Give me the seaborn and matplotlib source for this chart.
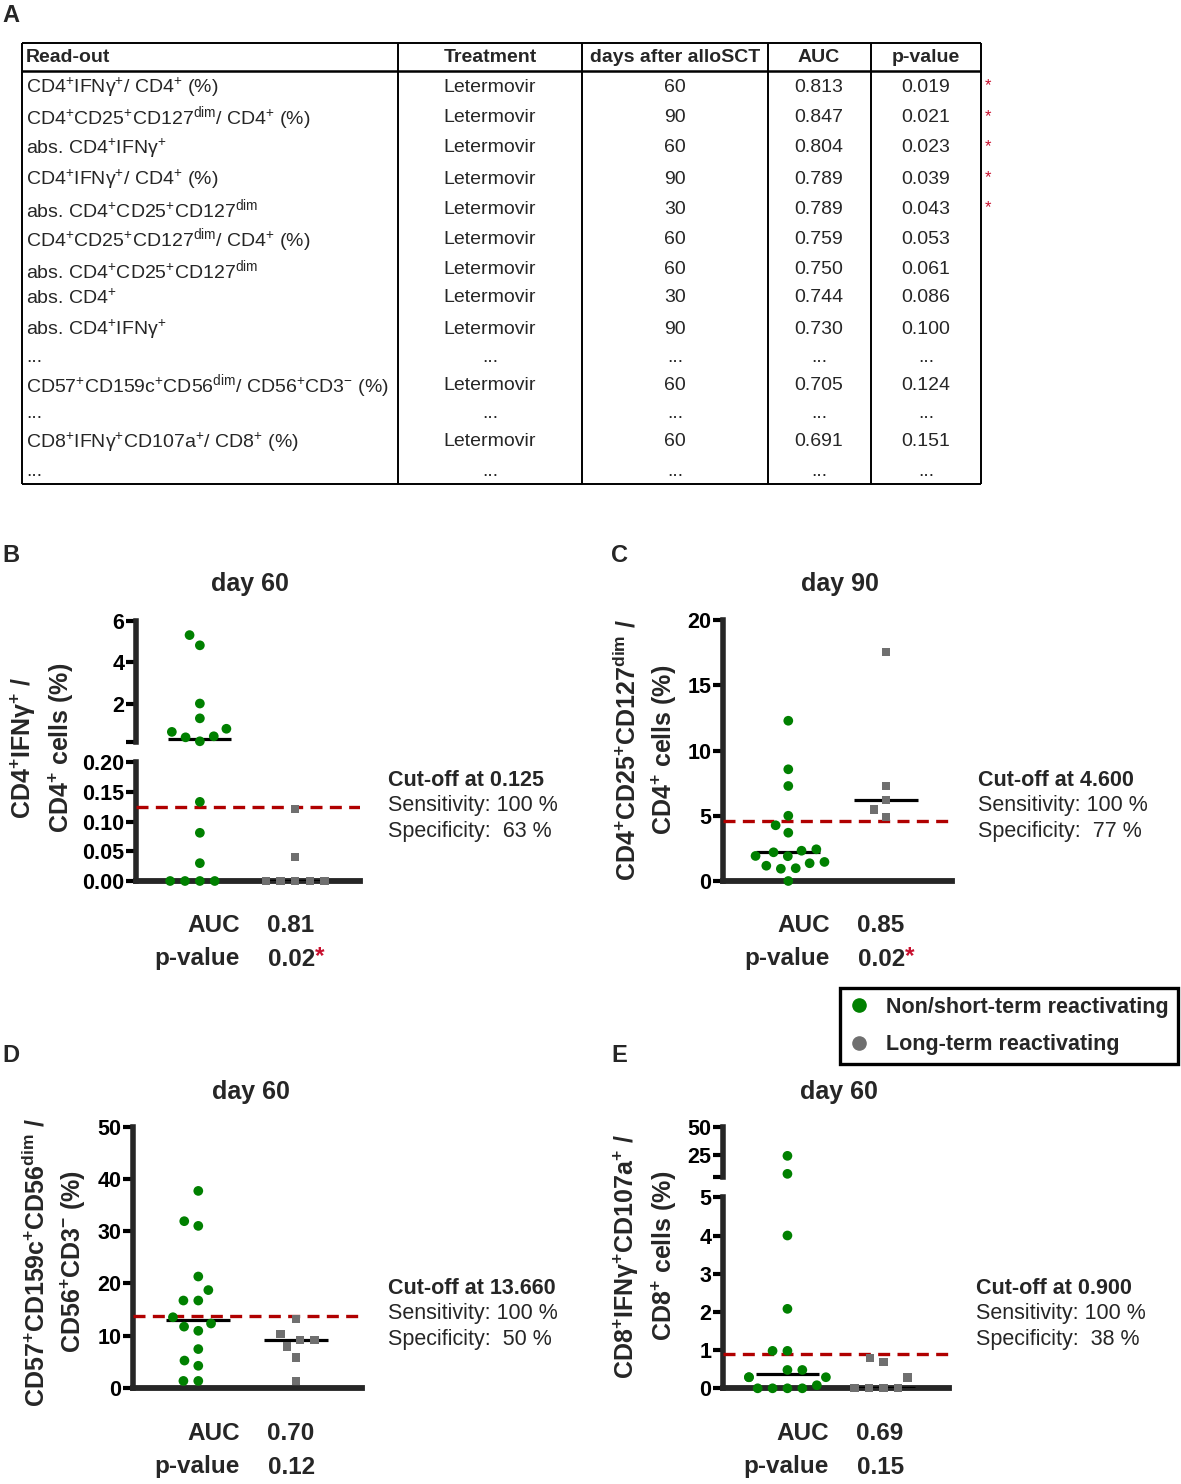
import numpy as np
import pandas as pd
import matplotlib
matplotlib.use("Agg")
import matplotlib.pyplot as plt
from matplotlib.lines import Line2D
import seaborn as sns

# ---------------- data: table (panel A) ----------------
readouts = [
    r"CD4$^{+}$IFN$\gamma^{+}$/ CD4$^{+}$ (%)",
    r"CD4$^{+}$CD25$^{+}$CD127$^{dim}$/ CD4$^{+}$ (%)",
    r"abs. CD4$^{+}$IFN$\gamma^{+}$",
    r"CD4$^{+}$IFN$\gamma^{+}$/ CD4$^{+}$ (%)",
    r"abs. CD4$^{+}$CD25$^{+}$CD127$^{dim}$",
    r"CD4$^{+}$CD25$^{+}$CD127$^{dim}$/ CD4$^{+}$ (%)",
    r"abs. CD4$^{+}$CD25$^{+}$CD127$^{dim}$",
    r"abs. CD4$^{+}$",
    r"abs. CD4$^{+}$IFN$\gamma^{+}$",
    "...",
    r"CD57$^{+}$CD159c$^{+}$CD56$^{dim}$/ CD56$^{+}$CD3$^{-}$ (%)",
    "...",
    r"CD8$^{+}$IFN$\gamma^{+}$CD107a$^{+}$/ CD8$^{+}$ (%)",
    "...",
]
treatments = ["Letermovir"] * 9 + ["..."] + ["Letermovir"] + ["..."] + ["Letermovir"] + ["..."]
days = ["60", "90", "60", "90", "30", "60", "60", "30", "90", "...", "60", "...", "60", "..."]
aucs = ["0.813", "0.847", "0.804", "0.789", "0.789", "0.759", "0.750", "0.744", "0.730",
        "...", "0.705", "...", "0.691", "..."]
pvals = ["0.019", "0.021", "0.023", "0.039", "0.043", "0.053", "0.061", "0.086", "0.100",
         "...", "0.124", "...", "0.151", "..."]
significant = [True, True, True, True, True] + [False] * 9
headers = ["Read-out", "Treatment", "days after alloSCT", "AUC", "p-value"]

# ---------------- data: scatter panels ----------------
groups = ["Non/short-term reactivating", "Long-term reactivating"]

B_green = [5.31, 4.82, 2.03, 1.32, 0.82, 0.67, 0.41, 0.22, 0.46, 0.133, 0.081, 0.03, 0, 0, 0, 0]
B_gray = [0.121, 0.040, 0, 0, 0, 0, 0]
C_green = [12.28, 8.56, 7.28, 5.0, 4.27, 3.70, 2.43, 2.20, 2.32, 1.92, 1.90, 1.36, 1.17,
           0.94, 0.98, 1.46, 0]
C_gray = [17.57, 7.28, 6.2, 5.49, 4.88]
D_green = [37.7, 31.9, 31.0, 21.3, 18.7, 16.7, 16.7, 13.5, 12.3, 11.7, 10.9, 7.4, 5.2, 4.2, 1.3, 1.3]
D_gray = [13.1, 10.3, 9.1, 9.1, 7.9, 5.8, 1.3]
E_green = [24.0, 7.6, 4.0, 2.08, 0.98, 0.98, 0.48, 0.48, 0.29, 0.29, 0.29, 0.08, 0, 0, 0, 0]
E_gray = [0.79, 0.68, 0.28, 0, 0, 0, 0]

cutoffs = [0.125, 4.6, 13.66, 0.9]
cutoff_labels = ["0.125", "4.600", "13.660", "0.900"]
sensitivity = [100, 100, 100, 100]
specificity = [63, 77, 50, 38]
auc_text = ["0.81", "0.85", "0.70", "0.69"]
p_text = ["0.02", "0.02", "0.12", "0.15"]
p_sig = [True, True, False, False]
titles = ["day 60", "day 90", "day 60", "day 60"]
ylabels = [
    r"CD4$^{+}$IFN$\gamma^{+}$ /" + "\n" + r"CD4$^{+}$ cells (%)",
    r"CD4$^{+}$CD25$^{+}$CD127$^{dim}$ /" + "\n" + r"CD4$^{+}$ cells (%)",
    r"CD57$^{+}$CD159c$^{+}$CD56$^{dim}$ /" + "\n" + r"CD56$^{+}$CD3$^{-}$ (%)",
    r"CD8$^{+}$IFN$\gamma^{+}$CD107a$^{+}$ /" + "\n" + r"CD8$^{+}$ cells (%)",
]

# ---------------- style ----------------
sns.set_style("ticks")
plt.rcParams["font.family"] = ["Liberation Sans", "DejaVu Sans"]
plt.rcParams["mathtext.default"] = "regular"
plt.rcParams["axes.linewidth"] = 4

GREEN = "#008000"
GRAY = "#6f6f6f"
RED = "#b00000"
STAR = "#c8102e"

W, H = 1181, 1484
fig = plt.figure(figsize=(W / 100, H / 100), dpi=100)


def rect(x0, y0, x1, y1):
    return [x0 / W, 1 - y1 / H, (x1 - x0) / W, (y1 - y0) / H]


def draw_group(ax, vals, group, color, marker, size, pad):
    if len(vals) == 0:
        return
    df = pd.DataFrame({"group": [group] * len(vals), "value": vals})
    n0 = len(ax.collections)
    sns.swarmplot(data=df, x="group", y="value", order=groups, color=color,
                  marker=marker, size=size, linewidth=0, ax=ax)
    for coll in list(ax.collections[n0:]):
        if len(coll.get_offsets()) == 0:
            coll.remove()
            continue
        coll.set_edgecolor("none")
        coll.set_linewidth(pad)   # invisible edge only widens swarm spacing
        coll.set_clip_on(False)
        coll.set_zorder(6)


def style_axes(ax, ylim, ticks, labels, bottom=True):
    ax.set_xlim(-0.67, 1.68)
    ax.set_ylim(*ylim)
    ax.set_xticks([])
    ax.set_xlabel("")
    ax.set_ylabel("")
    ax.set_yticks(ticks, labels, fontweight="bold", fontsize=15.5)
    ax.tick_params(axis="y", length=7, width=3, pad=1.5, colors="black")
    ax.spines["top"].set_visible(False)
    ax.spines["right"].set_visible(False)
    ax.spines["left"].set_linewidth(4)
    if bottom:
        ax.spines["bottom"].set_linewidth(4.2)
    else:
        ax.spines["bottom"].set_visible(False)
    ax.patch.set_alpha(0)


def panel(segments, green, gray, cut, split=None):
    """segments: list of (box, ylim, ticks, labels, bottom); first = lowest."""
    axes = []
    for i, (box, ylim, ticks, labels, bottom) in enumerate(segments):
        ax = fig.add_axes(rect(*box))
        if split is None:
            g, k = green, gray
        elif i == 0:
            g = [v for v in green if v < split]
            k = [v for v in gray if v < split]
        else:
            g = [v for v in green if v >= split]
            k = [v for v in gray if v >= split]
        draw_group(ax, g, groups[0], GREEN, "o", 7.0, 3.2)
        draw_group(ax, k, groups[1], GRAY, "s", 6.0, 4.0)
        style_axes(ax, ylim, ticks, labels, bottom)
        axes.append(ax)
    # median lines
    for pos, vals in enumerate([green, gray]):
        med = float(np.median(vals))
        target = axes[0] if (split is None or med < split) else axes[1]
        target.hlines(med, pos - 0.33, pos + 0.33, color="black", lw=2.3, zorder=4)
    # cut-off line
    target = axes[0] if (split is None or cut < split) else axes[1]
    target.axhline(cut, color=RED, lw=2.4, dashes=(3.6, 2.2), zorder=3)
    return axes


# Panel B (broken axis)
panel([
    ((136, 762, 360, 881), (0, 0.2), [0, 0.05, 0.10, 0.15, 0.20],
     ["0.00", "0.05", "0.10", "0.15", "0.20"], True),
    ((136, 620.7, 360, 741.7), (0.2, 6), [0.2, 2, 4, 6], ["", "2", "4", "6"], False),
], B_green, B_gray, cutoffs[0], split=0.2)

# Panel C
panel([
    ((723, 620, 952, 881), (0, 20), [0, 5, 10, 15, 20], ["0", "5", "10", "15", "20"], True),
], C_green, C_gray, cutoffs[1])

# Panel D
panel([
    ((133, 1126.7, 362, 1387.7), (0, 50), [0, 10, 20, 30, 40, 50],
     ["0", "10", "20", "30", "40", "50"], True),
], D_green, D_gray, cutoffs[2])

# Panel E (broken axis)
panel([
    ((723, 1197.3, 949, 1388.3), (0, 5), [0, 1, 2, 3, 4, 5], ["0", "1", "2", "3", "4", "5"], True),
    ((723, 1127.3, 949, 1176.7), (5, 50), [5, 25, 50], ["", "25", "50"], False),
], E_green, E_gray, cutoffs[3], split=5)

# ---------------- overlay for table and free text ----------------
ov = fig.add_axes([0, 0, 1, 1])
ov.set_xlim(0, W)
ov.set_ylim(H, 0)
ov.axis("off")

# table frame
col_edges = [22, 398, 582, 768, 871, 981]
t_top, t_head, t_bot = 43, 71, 484
ov.hlines([t_top, t_bot], col_edges[0], col_edges[-1], color="black", lw=1.4)
ov.hlines([t_head], col_edges[0], col_edges[-1], color="black", lw=1.8)
ov.vlines(col_edges, t_top, t_bot, color="black", lw=1.4)

col_x = [26, 490, 675, 819, 926]
col_ha = ["left", "center", "center", "center", "center"]
for x, ha, h in zip(col_x, col_ha, headers):
    ov.text(x, 57, h, ha=ha, va="center", fontsize=14, fontweight="bold")

row_y = [87, 118, 148, 179, 209, 240, 270, 298, 329, 357, 386, 414, 442, 472]
for i, y in enumerate(row_y):
    vals = [readouts[i], treatments[i], days[i], aucs[i], pvals[i]]
    for x, ha, v in zip(col_x, col_ha, vals):
        ov.text(x, y, v, ha=ha, va="center", fontsize=14)
    if significant[i]:
        ov.text(985, y - 1, "*", ha="left", va="center", fontsize=12, color=STAR)

# panel letters
for lab, (x, y) in zip("ABCDE", [(2, 16), (2, 556), (611, 556), (2, 1055), (611, 1055)]):
    ov.text(x, y, lab, ha="left", va="center", fontsize=17, fontweight="bold")

# titles
for t, (x, y) in zip(titles, [(250, 584), (840, 584), (251, 1092), (839, 1092)]):
    ov.text(x, y, t, ha="center", va="center", fontsize=18, fontweight="bold")

# y labels
for lab, (x, y) in zip(ylabels, [(42, 748), (646, 750), (55, 1262), (645, 1256)]):
    ov.text(x, y, lab, rotation=90, ha="center", va="center", multialignment="center",
            fontsize=18, fontweight="bold", linespacing=1.4)

# AUC / p-value text
auc_pos = [(240, 926, 959), (830, 926, 959), (240, 1434, 1467), (829, 1434, 1467)]
for i, (xr, ya, yp) in enumerate(auc_pos):
    ov.text(xr, ya, "AUC", ha="right", va="center", fontsize=17.5, fontweight="bold")
    ov.text(xr + 27, ya, auc_text[i], ha="left", va="center", fontsize=17.5, fontweight="bold")
    ov.text(xr, yp, "p-value", ha="right", va="center", fontsize=17.5, fontweight="bold")
    tp = ov.text(xr + 28, yp, p_text[i], ha="left", va="center", fontsize=17.5, fontweight="bold")
    if p_sig[i]:
        ov.annotate("*", xy=(1.0, 0.62), xycoords=tp, ha="left", va="center",
                    fontsize=17.5, fontweight="bold", color=STAR)

# cut-off text
cut_pos = [(388, 781), (978, 781), (388, 1289), (976, 1289)]
for i, (x, y) in enumerate(cut_pos):
    ov.text(x, y, f"Cut-off at {cutoff_labels[i]}", ha="left", va="center",
            fontsize=15.5, fontweight="bold")
    ov.text(x, y + 25, f"Sensitivity: {sensitivity[i]} %", ha="left", va="center", fontsize=15.5)
    ov.text(x, y + 50, f"Specificity:  {specificity[i]} %", ha="left", va="center", fontsize=15.5)

# legend
handles = [Line2D([], [], marker="o", linestyle="", color=GREEN, markersize=9.5),
           Line2D([], [], marker="o", linestyle="", color=GRAY, markersize=9.5)]
leg = ov.legend(handles, groups, loc="upper left",
                bbox_to_anchor=(840 / W, 1 - 988 / H), bbox_transform=fig.transFigure,
                borderaxespad=0, frameon=True, fancybox=False, framealpha=1,
                prop={"size": 15.5, "weight": "bold"}, handlelength=1.0,
                handletextpad=0.75, labelspacing=0.78, borderpad=0.4)
leg.get_frame().set_edgecolor("black")
leg.get_frame().set_linewidth(2.4)

fig.savefig("out.png", dpi=100)
